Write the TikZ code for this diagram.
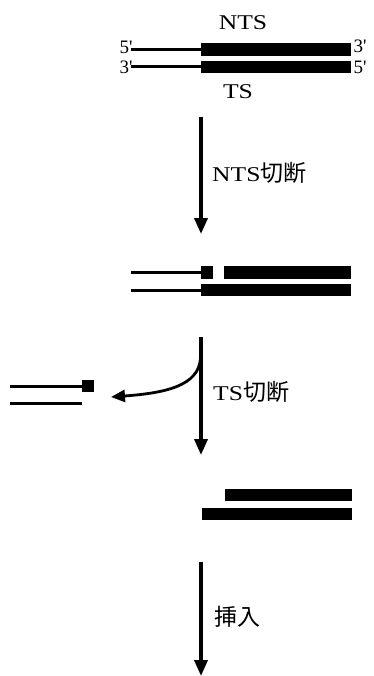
\documentclass[tikz,border=0pt]{standalone}
\usepackage{fontspec}
\setmainfont{Liberation Serif}
\newfontfamily\widefont{Liberation Serif}[FakeStretch=1.22]
\newfontfamily\cjk{Noto Sans CJK JP}
\usetikzlibrary{arrows.meta}
\begin{document}
\begin{tikzpicture}[x=1pt,y=-1pt,
  thinstrand/.style={line width=3pt},
  thickstrand/.style={fill=black},
  endlabel/.style={inner sep=0pt,font=\fontsize{19}{22}\selectfont},
  strandname/.style={inner sep=0pt,font=\widefont\fontsize{21}{24}\selectfont},
  steplabel/.style={inner sep=0pt,anchor=west,font=\fontsize{21}{24}\selectfont},
  flow/.style={line width=3.6pt,-{Triangle[width=13pt,length=16pt]}},
  sidearrow/.style={line width=2.8pt,-{Triangle[width=12pt,length=14pt]}}]
\useasboundingbox (0,0) rectangle (373,676);

% duplex before cleavage
\draw[thinstrand] (131,50) -- (202,50);
\fill[thickstrand] (201,43) rectangle (351,56);
\draw[thinstrand] (131,67) -- (202,67);
\fill[thickstrand] (201,61) rectangle (351,73.5);
\node[endlabel] (l5) at (126,47) {5\textquotesingle};
\node[endlabel] (l3) at (126,67) {3\textquotesingle};
\node[endlabel] (r3) at (360,46) {3\textquotesingle};
\node[endlabel] (r5) at (360,67) {5\textquotesingle};
\node[strandname] (nts) at (243,23) {NTS};
\node[strandname] (ts) at (238,92) {TS};

% step 1: NTS cleavage
\coordinate (a1s) at (201,117);
\coordinate (a1e) at (201,234);
\draw[flow] (a1s) -- (a1e);
\node[steplabel] (s1) at (212,173) {{\widefont NTS}{\cjk\fontsize{23}{26}\selectfont 切断}};

% nicked duplex
\draw[thinstrand] (131,272) -- (202,272);
\fill[thickstrand] (201,266) rectangle (213,278.5);
\fill[thickstrand] (224,266) rectangle (351,278.5);
\draw[thinstrand] (131,290) -- (202,290);
\fill[thickstrand] (201,283.5) rectangle (351,296);

% step 2: TS cleavage, fragment released to the left
\coordinate (a2s) at (201,337);
\coordinate (a2e) at (201,455);
\coordinate (a2b) at (200.5,358);
\coordinate (a2t) at (111,397);
\draw[flow] (a2s) -- (a2e);
\draw[sidearrow] (a2b) .. controls (199,386) and (165,393) .. (a2t);
\node[steplabel] (s2) at (213,392) {{\widefont TS}{\cjk\fontsize{23}{26}\selectfont 切断}};

% released fragment
\draw[thinstrand] (10,386.5) -- (83,386.5);
\fill[thickstrand] (82,380) rectangle (94,392);
\draw[thinstrand] (10,403) -- (82,403);

% cleaved product
\fill[thickstrand] (225,489) rectangle (352,501);
\fill[thickstrand] (201.5,508) rectangle (352,520);

% step 3: insertion
\coordinate (a3s) at (201,562);
\coordinate (a3e) at (201,676);
\draw[flow] (a3s) -- (a3e);
\node[steplabel] (s3) at (214,617) {\cjk\fontsize{23}{26}\selectfont 挿入};
\end{tikzpicture}
\end{document}
